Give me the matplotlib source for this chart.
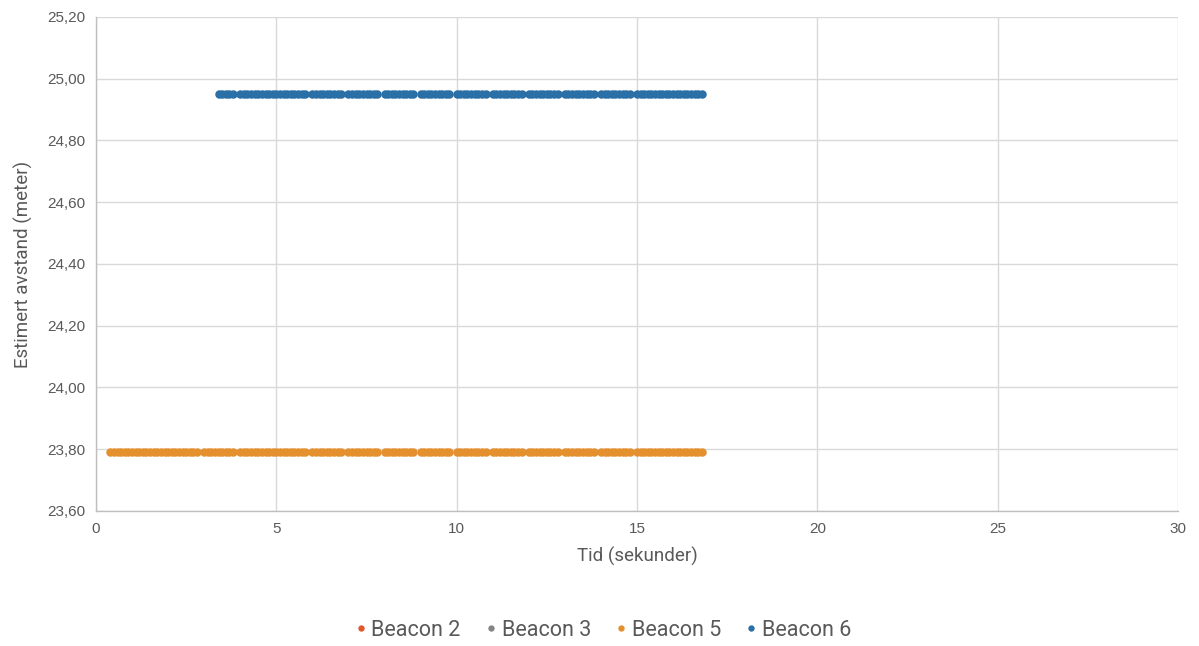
import matplotlib
matplotlib.use("Agg")
import matplotlib.pyplot as plt
from matplotlib.ticker import FuncFormatter, MultipleLocator

# Measurement times (seconds) and estimated distances (metres)
beacon5_t = [
    0.4, 0.5, 0.6, 0.7, 0.8, 0.9, 1.0, 1.1, 1.2, 1.3, 1.4, 1.5, 1.6, 1.7, 1.8, 1.9,
    2.0, 2.1, 2.2, 2.3, 2.4, 2.5, 2.6, 2.7, 2.8,
    3.0, 3.1, 3.2, 3.3, 3.4, 3.5, 3.6, 3.7, 3.8,
    4.0, 4.1, 4.2, 4.3, 4.4, 4.5, 4.6, 4.7, 4.8, 4.9, 5.0, 5.1, 5.2, 5.3, 5.4, 5.5, 5.6, 5.7, 5.8,
    6.0, 6.1, 6.2, 6.3, 6.4, 6.5, 6.6, 6.7, 6.8,
    7.0, 7.1, 7.2, 7.3, 7.4, 7.5, 7.6, 7.7, 7.8,
    8.0, 8.1, 8.2, 8.3, 8.4, 8.5, 8.6, 8.7, 8.8,
    9.0, 9.1, 9.2, 9.3, 9.4, 9.5, 9.6, 9.7, 9.8,
    10.0, 10.1, 10.2, 10.3, 10.4, 10.5, 10.6, 10.7, 10.8,
    11.0, 11.1, 11.2, 11.3, 11.4, 11.5, 11.6, 11.7, 11.8,
    12.0, 12.1, 12.2, 12.3, 12.4, 12.5, 12.6, 12.7, 12.8,
    13.0, 13.1, 13.2, 13.3, 13.4, 13.5, 13.6, 13.7, 13.8,
    14.0, 14.1, 14.2, 14.3, 14.4, 14.5, 14.6, 14.7, 14.8,
    15.0, 15.1, 15.2, 15.3, 15.4, 15.5, 15.6, 15.7, 15.8, 15.9,
    16.0, 16.1, 16.2, 16.3, 16.4, 16.5, 16.6, 16.7, 16.8,
]
beacon5_d = [23.79] * len(beacon5_t)

beacon6_t = [
    3.4, 3.5, 3.6, 3.7, 3.8,
    4.0, 4.1, 4.2, 4.3, 4.4, 4.5, 4.6, 4.7, 4.8, 4.9, 5.0, 5.1, 5.2, 5.3, 5.4, 5.5, 5.6, 5.7, 5.8,
    6.0, 6.1, 6.2, 6.3, 6.4, 6.5, 6.6, 6.7, 6.8,
    7.0, 7.1, 7.2, 7.3, 7.4, 7.5, 7.6, 7.7, 7.8,
    8.0, 8.1, 8.2, 8.3, 8.4, 8.5, 8.6, 8.7, 8.8,
    9.0, 9.1, 9.2, 9.3, 9.4, 9.5, 9.6, 9.7, 9.8,
    10.0, 10.1, 10.2, 10.3, 10.4, 10.5, 10.6, 10.7, 10.8,
    11.0, 11.1, 11.2, 11.3, 11.4, 11.5, 11.6, 11.7, 11.8,
    12.0, 12.1, 12.2, 12.3, 12.4, 12.5, 12.6, 12.7, 12.8,
    13.0, 13.1, 13.2, 13.3, 13.4, 13.5, 13.6, 13.7, 13.8,
    14.0, 14.1, 14.2, 14.3, 14.4, 14.5, 14.6, 14.7, 14.8,
    15.0, 15.1, 15.2, 15.3, 15.4, 15.5, 15.6, 15.7, 15.8, 15.9,
    16.0, 16.1, 16.2, 16.3, 16.4, 16.5, 16.6, 16.7, 16.8,
]
beacon6_d = [24.95] * len(beacon6_t)

# Beacons 2 and 3 gave no readings in this run
beacon2_t, beacon2_d = [], []
beacon3_t, beacon3_d = [], []

series = [
    ("Beacon 2", beacon2_t, beacon2_d, "#E2572B"),
    ("Beacon 3", beacon3_t, beacon3_d, "#858585"),
    ("Beacon 5", beacon5_t, beacon5_d, "#E5902F"),
    ("Beacon 6", beacon6_t, beacon6_d, "#2A70A6"),
]

fig = plt.figure(figsize=(11.99, 6.46), dpi=100)
ax = fig.add_axes([96 / 1199, 1 - 511 / 646, (1178 - 96) / 1199, (511 - 17) / 646])

for name, t, d, col in series:
    ax.plot(t, d, linestyle="none", marker="o", markersize=6.1,
            color=col, markeredgewidth=0, label=name)

ax.set_xlim(0, 30)
ax.set_ylim(23.6, 25.2)
ax.xaxis.set_major_locator(MultipleLocator(5))
ax.yaxis.set_major_locator(MultipleLocator(0.2))
ax.yaxis.set_major_formatter(FuncFormatter(lambda v, p: f"{v:.2f}".replace(".", ",")))

grid_col = "#D9D9D9"
ax.grid(True, color=grid_col, linewidth=1.0)
ax.set_axisbelow(True)
for side in ("top", "right"):
    ax.spines[side].set_visible(False)
for side in ("left", "bottom"):
    ax.spines[side].set_color("#BFBFBF")
    ax.spines[side].set_linewidth(1.0)

ax.tick_params(length=0, pad=8, labelsize=11, labelcolor="#595959")
for lab in ax.get_xticklabels() + ax.get_yticklabels():
    lab.set_family("Liberation Sans")

label_font = dict(family="Roboto", weight="normal", size=13.5, color="#595959")
ax.set_xlabel("Tid (sekunder)", labelpad=8, **label_font)
ax.set_ylabel("Estimert avstand (meter)", labelpad=10, **label_font)

leg = fig.legend(loc="center", bbox_to_anchor=(0.5, 1 - 630 / 646), ncol=4,
                 frameon=False, handletextpad=-0.1, columnspacing=0.8,
                 markerscale=0.75, handlelength=1.2,
                 prop=dict(family="Roboto", weight="normal", size=15.5))
for txt in leg.get_texts():
    txt.set_color("#595959")

fig.savefig("out.png", dpi=100)
